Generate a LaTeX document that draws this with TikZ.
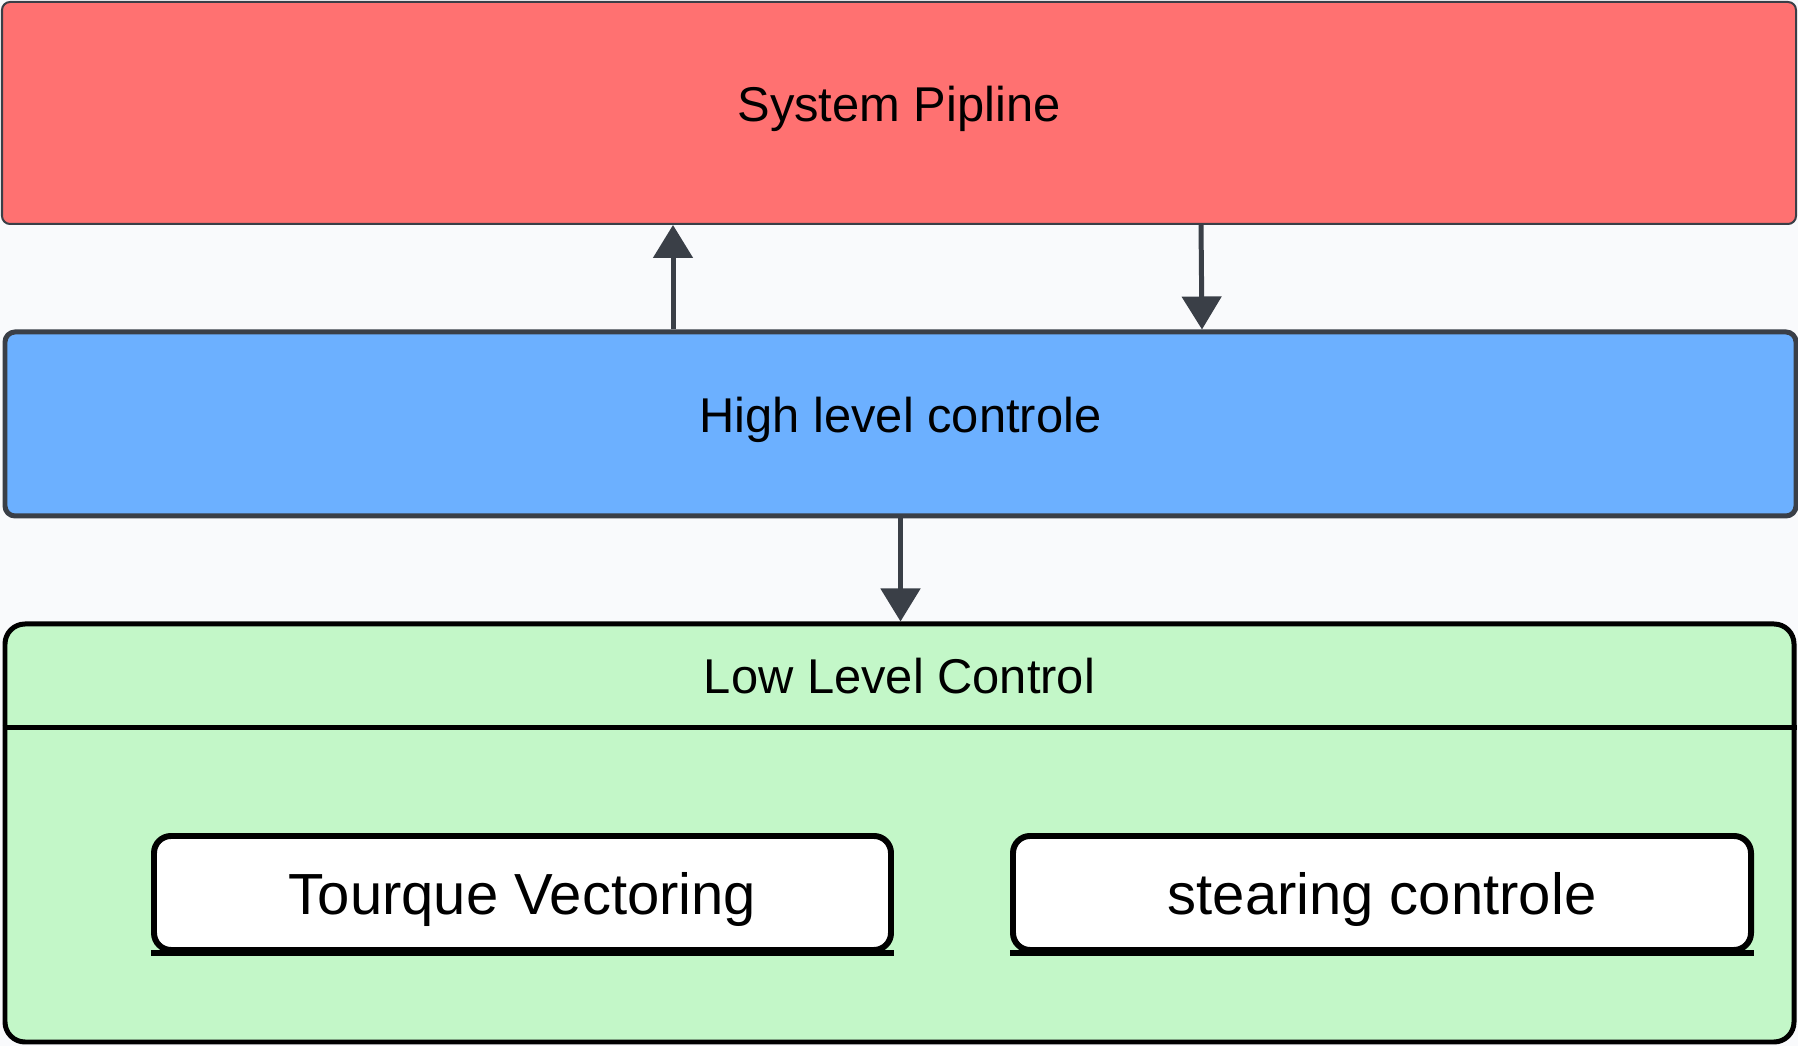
\documentclass[tikz,border=0pt]{standalone}
\usepackage{fontspec}
\setmainfont{Liberation Sans}
\usepackage{tikz}
\usetikzlibrary{arrows.meta,positioning}
\definecolor{pipered}{RGB}{255,113,113}
\definecolor{hlblue}{RGB}{108,176,255}
\definecolor{llgreen}{RGB}{195,247,200}
\definecolor{edgegray}{RGB}{58,63,71}
\definecolor{bgwhite}{RGB}{249,250,252}
\tikzset{
  layerbox/.style={rectangle, draw=edgegray, text=black, inner sep=0pt,
    font=\fontsize{13.9}{16}\selectfont, text depth=0.5em},
  subbox/.style={rectangle, draw=black, fill=white, line width=1.7pt, inner sep=0pt,
    rounded corners=0.17cm, minimum width=7.37cm, minimum height=1.14cm,
    font=\fontsize{16.5}{19}\selectfont, text depth=0pt},
  flow/.style={draw=edgegray, line width=1.42pt, -{Triangle[length=0.33cm,width=0.39cm]}}
}
\begin{document}
\begin{tikzpicture}
\fill[bgwhite] (0,0) rectangle (17.98,-10.46);
\useasboundingbox (0,0) rectangle (17.98,-10.46);
% the three layers
\node[layerbox, fill=pipered, line width=0.57pt, rounded corners=0.08cm,
  minimum width=17.94cm, minimum height=2.22cm] (pipe) at (8.99,-1.13) {System Pipline};
\node[layerbox, fill=hlblue, line width=1.42pt, rounded corners=0.1cm,
  minimum width=17.91cm, minimum height=1.84cm] (hlc) at (9.005,-4.24) {High level controle};
\node[rectangle, draw=black, fill=llgreen, line width=1.42pt, rounded corners=0.2cm,
  minimum width=17.89cm, minimum height=4.18cm] (llc) at (8.995,-8.33) {};
\node[font=\fontsize{13.9}{16}\selectfont, text depth=0pt] (lltitle) at (8.995,-6.76) {Low Level Control};
\draw[line width=1.42pt] ([yshift=-1.06cm]llc.north west) -- ([yshift=-1.06cm]llc.north east);
% low level blocks
\node[subbox] (tv) at (5.225,-8.93) {Tourque Vectoring};
\node[subbox, minimum width=7.38cm] (sc) at (13.82,-8.93) {stearing controle};
\draw[line width=1.7pt] (tv.south west) -- (tv.south east);
\draw[line width=1.7pt] (sc.south west) -- (sc.south east);
% connections
\draw[flow] ([xshift=-2.275cm]hlc.north) -- ([xshift=-2.26cm]pipe.south);
\draw[flow] ([xshift=3.02cm]pipe.south) -- ([xshift=3.015cm]hlc.north);
\draw[flow] (hlc.south) -- (hlc.south |- llc.north);
\end{tikzpicture}
\end{document}
